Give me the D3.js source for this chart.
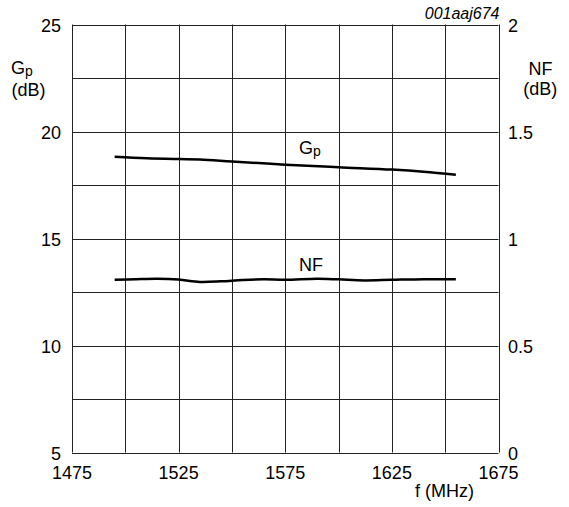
<!DOCTYPE html>
<html><head><meta charset="utf-8">
<script src="https://cdn.jsdelivr.net/npm/d3@7"></script>
<style>
body{margin:0;background:#fff;}
text{font-family:"Liberation Sans",Arial,sans-serif;fill:#000;}
</style></head>
<body><svg id="c" width="569" height="507"></svg>
<script>
const xTicks = [1475, 1525, 1575, 1625, 1675];
const leftTicks = [5, 10, 15, 20, 25];
const rightTicks = ["0", "0.5", "1", "1.5", "2"];
const gpFreq = [1495, 1510, 1525, 1535, 1550, 1575, 1600, 1625, 1640, 1655];
const gpValues = [18.82, 18.75, 18.71, 18.69, 18.6, 18.45, 18.33, 18.22, 18.12, 17.98];
const nfFreq = [1495, 1505, 1515, 1525, 1535, 1545, 1555, 1565, 1575, 1590, 1600, 1612, 1625, 1640, 1655];
const nfValues = [0.807, 0.81, 0.812, 0.808, 0.797, 0.8, 0.806, 0.809, 0.807, 0.812, 0.809, 0.804, 0.807, 0.81, 0.809];

const svg = d3.select("#c");
const L = 72, R = 498.5, T = 24.5, B = 452.5;
const x = d3.scaleLinear().domain([1475, 1675]).range([L, R]);
const yL = d3.scaleLinear().domain([5, 25]).range([B, T]);
const yR = d3.scaleLinear().domain([0, 2]).range([B, T]);

const g = svg.append("g");
// grid
const xGrid = d3.range(1475, 1675.1, 25);
const yGrid = d3.range(5, 25.1, 2.5);
g.selectAll(".vx").data(xGrid).join("line")
  .attr("x1", d => Math.round(x(d)) + 0.5).attr("x2", d => Math.round(x(d)) + 0.5)
  .attr("y1", T).attr("y2", B).attr("stroke", "#222").attr("stroke-width", 1);
g.selectAll(".hy").data(yGrid).join("line")
  .attr("y1", d => Math.round(yL(d)) + 0.5).attr("y2", d => Math.round(yL(d)) + 0.5)
  .attr("x1", L).attr("x2", R).attr("stroke", "#222").attr("stroke-width", 1);

// tick labels
const fs = 18;
g.selectAll(".xt").data(xTicks).join("text")
  .attr("x", d => x(d)).attr("y", 478.5).attr("text-anchor", "middle")
  .attr("font-size", fs).text(d => d);
g.selectAll(".lt").data(leftTicks).join("text")
  .attr("x", 61).attr("y", d => yL(d) + 7).attr("text-anchor", "end")
  .attr("font-size", fs).text(d => d);
g.selectAll(".rt").data(rightTicks).join("text")
  .attr("x", 508).attr("y", (d) => yR(+d) + 7).attr("text-anchor", "start")
  .attr("font-size", fs).text(d => d);

// axis titles
const gpT = g.append("text").attr("x", 11).attr("y", 74).attr("font-size", fs);
gpT.append("tspan").text("G");
gpT.append("tspan").attr("font-size", 14).attr("dy", 2).text("p");
g.append("text").attr("x", 28.5).attr("y", 96).attr("text-anchor", "middle").attr("font-size", fs).text("(dB)");
g.append("text").attr("x", 540.5).attr("y", 75).attr("text-anchor", "middle").attr("font-size", fs).text("NF");
g.append("text").attr("x", 540.3).attr("y", 95).attr("text-anchor", "middle").attr("font-size", fs).text("(dB)");
g.append("text").attr("x", 444.5).attr("y", 497).attr("text-anchor", "middle").attr("font-size", fs).text("f (MHz)");
g.append("text").attr("x", 499.5).attr("y", 18.5).attr("text-anchor", "end").attr("font-size", 16).attr("font-style", "italic").text("001aaj674");

// curves
const lineGp = d3.line().x((d, i) => x(gpFreq[i])).y(d => yL(d)).curve(d3.curveCatmullRom);
const lineNf = d3.line().x((d, i) => x(nfFreq[i])).y(d => yR(d)).curve(d3.curveCatmullRom);
g.append("path").attr("d", lineGp(gpValues)).attr("fill", "none").attr("stroke", "#000").attr("stroke-width", 2.5);
g.append("path").attr("d", lineNf(nfValues)).attr("fill", "none").attr("stroke", "#000").attr("stroke-width", 2.5);

// curve labels
const gl = g.append("text").attr("x", 299).attr("y", 154).attr("font-size", fs);
gl.append("tspan").text("G");
gl.append("tspan").attr("font-size", 14).attr("dy", 2).text("p");
g.append("text").attr("x", 299).attr("y", 271).attr("font-size", fs).text("NF");
</script></body></html>
